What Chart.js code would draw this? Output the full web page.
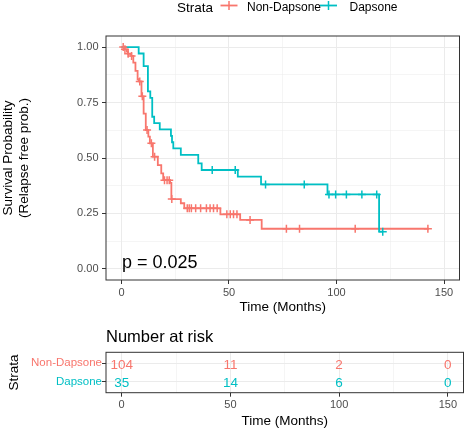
<!DOCTYPE html>
<html><head><meta charset="utf-8">
<script src="https://cdn.jsdelivr.net/npm/chart.js@4.4.0/dist/chart.umd.min.js"></script>
<style>
html,body{margin:0;padding:0;background:#fff;}
#wrap{position:relative;width:465px;height:430px;overflow:hidden;}
#c1{position:absolute;left:0;top:0;}
#c2{position:absolute;left:0;top:320px;}
</style></head><body>
<div id="wrap">
<canvas id="c1" width="465" height="320"></canvas>
<canvas id="c2" width="465" height="110"></canvas>
</div>
<script>
const FONT = "'Liberation Sans', Arial, Helvetica, sans-serif";
const RED = '#F8766D', TEAL = '#00BFC4';

// ---- data ----
const strata = ['Non-Dapsone', 'Dapsone'];
const nonDapsoneTime = [0, 1.3, 2.5, 3.0, 4.5, 5.5, 6.5, 7.5, 8.0, 9.3, 10.3, 11.3, 12.5, 13.2, 14.6, 16.9, 18.5, 19.4, 22.6, 23.2, 27.6, 29.2, 46.0, 55.2, 65.2, 143];
const nonDapsoneSurv = [1, 0.990, 0.980, 0.970, 0.960, 0.930, 0.893, 0.855, 0.845, 0.778, 0.700, 0.626, 0.596, 0.566, 0.506, 0.468, 0.431, 0.400, 0.388, 0.315, 0.296, 0.273, 0.246, 0.221, 0.181, 0.181];
const nonDapsoneCensor = [0.8, 1.6, 3.1, 4.7, 8.5, 9.7, 11.9, 13.9, 15.4, 20.0, 21.2, 22.2, 23.4, 30.6, 31.5, 32.5, 34.5, 36.8, 39.5, 41.2, 42.8, 44.5, 49.0, 50.6, 52.1, 53.7, 59.8, 76.7, 82.8, 108.7, 142.5];
const dapsoneTime = [0, 8.0, 10.3, 12.3, 13.4, 14.3, 15.2, 17.8, 23.0, 23.5, 24.1, 27.6, 35.7, 37.3, 54.1, 64.9, 95.8, 119.8, 121.5];
const dapsoneSurv = [1, 0.971, 0.914, 0.800, 0.771, 0.686, 0.657, 0.629, 0.600, 0.571, 0.543, 0.514, 0.476, 0.446, 0.416, 0.381, 0.336, 0.168, 0.168];
const dapsoneCensor = [42.2, 52.9, 67.0, 85.0, 96.5, 99.6, 104.6, 111.8, 118.7, 121.5];
const xTicks = [0, 50, 100, 150];
const yTicks = [0, 0.25, 0.5, 0.75, 1];
const riskTimes = [0, 50, 100, 150];
const riskNonDapsone = [104, 11, 2, 0];
const riskDapsone = [35, 14, 6, 0];
const pValueText = 'p = 0.025';

const X_MIN = -7.2, X_MAX = 157.2;

function survAt(t, T, S) { let s = S[0]; for (let i = 0; i < T.length; i++) { if (T[i] <= t) s = S[i]; } return s; }
function withMinor(major) { const out = []; for (let i = 0; i < major.length; i++) { out.push(major[i]); if (i < major.length - 1) out.push((major[i] + major[i + 1]) / 2); } return out; }
const isMajor = (arr, v) => arr.some(m => Math.abs(m - v) < 1e-9);

const ggFrame = {
  id: 'ggFrame',
  afterDraw(chart) {
    const { ctx, chartArea: a } = chart;
    ctx.save(); ctx.strokeStyle = '#333333'; ctx.lineWidth = 1;
    ctx.strokeRect(a.left, a.top, a.right - a.left, a.bottom - a.top);
    ctx.restore();
  }
};

const topLegend = {
  id: 'topLegend',
  afterDraw(chart) {
    const ctx = chart.ctx;
    ctx.save();
    ctx.textBaseline = 'alphabetic'; ctx.textAlign = 'left'; ctx.fillStyle = '#000';
    ctx.font = `13.5px ${FONT}`;
    ctx.fillText('Strata', 177, 11.5);
    const items = [{ label: strata[0], color: RED, kx: 229, tx: 247 }, { label: strata[1], color: TEAL, kx: 328.5, tx: 349.5 }];
    ctx.font = `12px ${FONT}`;
    items.forEach(it => {
      ctx.strokeStyle = it.color; ctx.lineWidth = 1.8;
      ctx.beginPath(); ctx.moveTo(it.kx - 8.5, 5.5); ctx.lineTo(it.kx + 8.5, 5.5); ctx.stroke();
      ctx.lineWidth = 1.5;
      ctx.beginPath(); ctx.moveTo(it.kx, 1); ctx.lineTo(it.kx, 10); ctx.stroke();
      ctx.fillStyle = '#000';
      ctx.fillText(it.label, it.tx, 11);
    });
    // p-value
    const a = chart.chartArea;
    ctx.font = `18px ${FONT}`; ctx.fillStyle = '#000';
    ctx.fillText(pValueText, chart.scales.x.getPixelForValue(0) + 0.5, chart.scales.y.getPixelForValue(0) - 0.5);
    ctx.restore();
  }
};

const axisFont = { family: FONT, size: 11 };
const titleFont = { family: FONT, size: 13.5 };

function xScaleCfg(titlePadBottom, fixedHeight) {
  return {
    type: 'linear', min: X_MIN, max: X_MAX,
    afterBuildTicks: s => { s.ticks = withMinor(xTicks).map(v => ({ value: v })); },
    afterFit: s => { s.height = fixedHeight; },
    ticks: { autoSkip: false, maxRotation: 0, color: '#4D4D4D', font: axisFont, padding: 2,
      callback: v => isMajor(xTicks, v) ? String(v) : '' },
    grid: { color: '#EBEBEB', lineWidth: c => (c.tick && isMajor(xTicks, c.tick.value)) ? 1 : 0.5,
      tickColor: c => (c.tick && isMajor(xTicks, c.tick.value)) ? '#333333' : 'rgba(0,0,0,0)',
      tickWidth: 1, tickLength: 4, drawTicks: true },
    border: { display: false },
    title: { display: true, text: 'Time (Months)', color: '#000', font: titleFont, padding: { top: 0, bottom: titlePadBottom } }
  };
}

// ---- main chart ----
new Chart(document.getElementById('c1'), {
  type: 'line',
  data: {
    datasets: [
      { label: strata[0] + ' censor', data: nonDapsoneCensor.map(t => ({ x: t, y: survAt(t, nonDapsoneTime, nonDapsoneSurv) })),
        showLine: false, pointStyle: 'cross', pointRadius: 4, borderColor: RED, pointBorderWidth: 1.5, order: 0 },
      { label: strata[1] + ' censor', data: dapsoneCensor.map(t => ({ x: t, y: survAt(t, dapsoneTime, dapsoneSurv) })),
        showLine: false, pointStyle: 'cross', pointRadius: 4, borderColor: TEAL, pointBorderWidth: 1.5, order: 0 },
      { label: strata[1], data: dapsoneTime.map((t, i) => ({ x: t, y: dapsoneSurv[i] })),
        stepped: 'before', borderColor: TEAL, borderWidth: 1.8, pointRadius: 0, fill: false, order: 1 },
      { label: strata[0], data: nonDapsoneTime.map((t, i) => ({ x: t, y: nonDapsoneSurv[i] })),
        stepped: 'before', borderColor: RED, borderWidth: 1.8, pointRadius: 0, fill: false, order: 2 }
    ]
  },
  options: {
    responsive: false, animation: false,
    layout: { padding: { top: 36, right: 1.5, left: 0, bottom: 0 } },
    plugins: { legend: { display: false }, tooltip: { enabled: false } },
    scales: {
      x: xScaleCfg(4.5, 40),
      y: {
        type: 'linear', min: -0.05, max: 1.05,
        afterBuildTicks: s => { s.ticks = withMinor(yTicks).map(v => ({ value: v })); },
        afterFit: s => { s.width = 106; },
        ticks: { autoSkip: false, color: '#4D4D4D', font: axisFont, padding: 3.5,
          callback: v => isMajor(yTicks, v) ? v.toFixed(2) : '' },
        grid: { color: '#EBEBEB', lineWidth: c => (c.tick && isMajor(yTicks, c.tick.value)) ? 1 : 0.5,
          tickColor: c => (c.tick && isMajor(yTicks, c.tick.value)) ? '#333333' : 'rgba(0,0,0,0)',
          tickWidth: 1, tickLength: 4 },
        border: { display: false },
        title: { display: true, text: ['Survival Probability', '(Relapse free prob.)'], color: '#000',
          font: { family: FONT, size: 13.5, lineHeight: '16px' }, padding: { top: 0, bottom: 0 } }
      }
    }
  },
  plugins: [ggFrame, topLegend]
});

// ---- risk table ----
const riskText = {
  id: 'riskText',
  afterDatasetsDraw(chart) {
    const ctx = chart.ctx;
    ctx.save();
    ctx.font = `13.5px ${FONT}`; ctx.textAlign = 'center'; ctx.textBaseline = 'middle';
    chart.data.datasets.forEach((ds, i) => {
      const meta = chart.getDatasetMeta(i);
      ctx.fillStyle = ds.textColor;
      meta.data.forEach((pt, j) => ctx.fillText(String(ds.data[j].n), pt.x, pt.y + 1.5));
    });
    ctx.font = `16.5px ${FONT}`; ctx.textAlign = 'left'; ctx.textBaseline = 'alphabetic'; ctx.fillStyle = '#000';
    ctx.fillText('Number at risk', chart.chartArea.left, chart.chartArea.top - 10);
    ctx.restore();
  }
};
const strataColors = [RED, TEAL];
new Chart(document.getElementById('c2'), {
  type: 'scatter',
  data: {
    datasets: [
      { label: strata[0], textColor: RED, pointRadius: 0, data: riskTimes.map((t, j) => ({ x: t, y: 0, n: riskNonDapsone[j] })) },
      { label: strata[1], textColor: TEAL, pointRadius: 0, data: riskTimes.map((t, j) => ({ x: t, y: 1, n: riskDapsone[j] })) }
    ]
  },
  options: {
    responsive: false, animation: false,
    layout: { padding: { top: 32.3, right: 1.5, left: 0, bottom: 0 } },
    plugins: { legend: { display: false }, tooltip: { enabled: false } },
    scales: {
      x: xScaleCfg(1, 37.3),
      y: {
        type: 'linear', min: -0.6, max: 1.6, reverse: true,
        afterBuildTicks: s => { s.ticks = strata.map((_, i) => ({ value: i })); },
        afterFit: s => { s.width = 106; },
        ticks: { autoSkip: false, font: { family: FONT, size: 11.5 }, padding: 0,
          color: c => strataColors[c.tick ? c.tick.value : 0] || '#4D4D4D',
          callback: v => strata[v] },
        grid: { color: '#EBEBEB', lineWidth: 1, tickColor: '#333333', tickWidth: 1, tickLength: 4 },
        border: { display: false },
        title: { display: true, text: 'Strata', color: '#000', font: titleFont, padding: { top: 5.9, bottom: 0 } }
      }
    }
  },
  plugins: [ggFrame, riskText]
});
</script>
</body></html>
